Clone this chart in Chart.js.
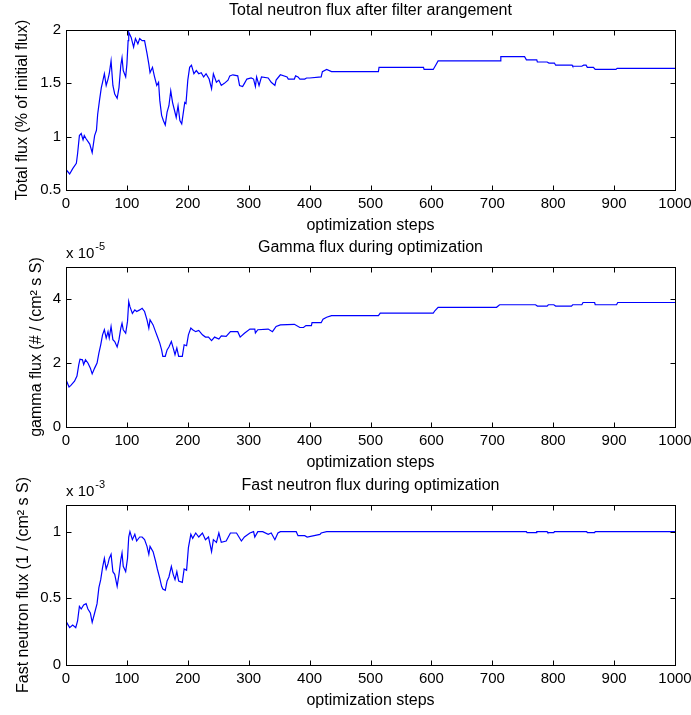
<!DOCTYPE html>
<html>
<head>
<meta charset="utf-8">
<script src="https://cdn.jsdelivr.net/npm/chart.js@4.4.1/dist/chart.umd.min.js"></script>
<style>
    html, body { margin: 0; padding: 0; background: #fff; }
    #wrap { position: relative; width: 691px; height: 715px; }
    .panel { position: absolute; left: 0; }
</style>
</head>
<body>
<div id="wrap">
    <canvas id="fluxChart"  class="panel" width="691" height="237" style="top:0"></canvas>
    <canvas id="gammaChart" class="panel" width="691" height="237" style="top:237px"></canvas>
    <canvas id="fastChart"  class="panel" width="691" height="237" style="top:475px"></canvas>
</div>
<script>
// x axis shared by the three panels
const stepTicks = [0, 100, 200, 300, 400, 500, 600, 700, 800, 900, 1000];

// total neutron flux (% of initial flux)
const fluxTicks = [0.5, 1, 1.5, 2];
const fluxSteps = [
    0, 1, 6, 11, 17, 19, 22, 25, 28, 30,
    33, 39, 43, 47, 50, 52, 55, 58, 60, 63,
    66, 69, 71, 74, 77, 80, 84, 87, 90, 92,
    94, 98, 100, 102, 103, 107, 111, 114, 118, 121,
    125, 129, 133, 136, 138, 142, 145, 149, 152, 154,
    157, 160, 163, 166, 169, 172, 175, 178, 181, 184,
    187, 190, 192, 195, 197, 200, 203, 206, 210, 214,
    218, 222, 226, 230, 235, 239, 242, 247, 251, 255,
    260, 266, 269, 274, 282, 285, 290, 293, 297, 304,
    308, 311, 313, 317, 321, 332, 337, 343, 345, 352,
    363, 365, 375, 377, 381, 384, 392, 395, 400, 419,
    421, 428, 436, 513, 514, 587, 588, 603, 607, 611,
    713, 714, 753, 756, 773, 774, 790, 793, 802, 804,
    831, 832, 847, 850, 854, 856, 866, 869, 903, 905,
    1000
];
const fluxValues = [
    0.68, 0.685, 0.65, 0.70, 0.75, 0.84, 1.01, 1.03, 0.97, 1.01,
    0.98, 0.93, 0.85, 1.01, 1.06, 1.21, 1.34, 1.46, 1.51, 1.59,
    1.48, 1.54, 1.59, 1.71, 1.48, 1.40, 1.36, 1.46, 1.67, 1.74,
    1.62, 1.56, 1.68, 1.90, 1.98, 1.93, 1.84, 1.92, 1.87, 1.92,
    1.90, 1.90, 1.78, 1.68, 1.60, 1.65, 1.57, 1.48, 1.51, 1.34,
    1.20, 1.15, 1.11, 1.23, 1.29, 1.43, 1.32, 1.25, 1.18, 1.29,
    1.15, 1.12, 1.20, 1.32, 1.31, 1.53, 1.65, 1.67, 1.59, 1.62,
    1.59, 1.60, 1.56, 1.59, 1.54, 1.45, 1.59, 1.51, 1.53, 1.48,
    1.50, 1.53, 1.57, 1.58, 1.57, 1.48, 1.47, 1.50, 1.54, 1.55,
    1.54, 1.47, 1.56, 1.48, 1.56, 1.55, 1.51, 1.48, 1.53, 1.58,
    1.56, 1.54, 1.54, 1.57, 1.56, 1.54, 1.54, 1.55, 1.55, 1.56,
    1.61, 1.63, 1.61, 1.61, 1.65, 1.65, 1.63, 1.63, 1.67, 1.71,
    1.71, 1.75, 1.75, 1.72, 1.72, 1.70, 1.70, 1.69, 1.69, 1.67,
    1.67, 1.66, 1.66, 1.67, 1.67, 1.65, 1.65, 1.63, 1.63, 1.64,
    1.64
];

// gamma flux, in units of 1e-5
const gammaTicks = [0, 2, 4];
const gammaSteps = [
    0, 5, 8, 14, 18, 21, 23, 27, 29, 32,
    36, 40, 43, 47, 51, 54, 57, 60, 63, 66,
    69, 71, 74, 77, 80, 84, 87, 90, 92, 94,
    98, 101, 103, 105, 109, 113, 116, 121, 125, 129,
    133, 136, 138, 143, 147, 150, 154, 157, 159, 163,
    166, 169, 173, 176, 179, 182, 185, 191, 194, 198,
    201, 205, 208, 213, 218, 224, 229, 234, 239, 244,
    251, 255, 263, 270, 282, 286, 293, 302, 310, 311,
    315, 332, 339, 345, 352, 375, 384, 390, 394, 403,
    404, 419, 422, 428, 436, 513, 516, 603, 606, 611,
    707, 712, 771, 774, 790, 792, 801, 804, 830, 832,
    847, 849, 868, 869, 904, 906, 1000
];
const gammaValues = [
    1.48, 1.25, 1.30, 1.43, 1.59, 1.95, 2.12, 2.10, 1.95, 2.10,
    2.00, 1.84, 1.66, 1.84, 2.00, 2.31, 2.57, 2.88, 3.04, 2.78,
    2.98, 2.78, 3.14, 2.73, 2.67, 2.50, 2.73, 3.09, 3.24, 3.04,
    2.93, 3.30, 3.92, 3.76, 3.55, 3.66, 3.61, 3.66, 3.71, 3.61,
    3.35, 3.09, 3.35, 3.19, 2.98, 2.83, 2.62, 2.41, 2.21, 2.21,
    2.41, 2.50, 2.67, 2.47, 2.26, 2.47, 2.21, 2.21, 2.57, 2.54,
    2.88, 3.09, 3.04, 2.98, 3.02, 2.88, 2.81, 2.81, 2.70, 2.81,
    2.75, 2.85, 2.83, 2.98, 2.98, 2.81, 2.93, 3.06, 3.06, 2.94,
    3.04, 3.06, 2.98, 3.14, 3.19, 3.21, 3.11, 3.11, 3.17, 3.17,
    3.26, 3.26, 3.37, 3.43, 3.48, 3.48, 3.56, 3.56, 3.64, 3.74,
    3.74, 3.82, 3.82, 3.78, 3.78, 3.82, 3.82, 3.78, 3.78, 3.82,
    3.82, 3.89, 3.89, 3.82, 3.82, 3.89, 3.89
];

// fast neutron flux, in units of 1e-3
const fastTicks = [0, 0.5, 1];
const fastSteps = [
    1, 6, 11, 16, 19, 22, 25, 29, 33, 36,
    40, 43, 47, 51, 54, 57, 60, 63, 66, 69,
    71, 74, 77, 80, 84, 87, 90, 92, 94, 98,
    101, 103, 105, 109, 113, 116, 121, 125, 129, 133,
    136, 138, 143, 147, 150, 154, 157, 159, 163, 166,
    169, 173, 176, 179, 182, 185, 191, 194, 198, 201,
    205, 208, 213, 218, 224, 229, 234, 239, 242, 247,
    251, 255, 263, 270, 280, 288, 293, 302, 308, 310,
    315, 323, 332, 337, 343, 348, 352, 378, 381, 392,
    396, 417, 419, 428, 756, 757, 772, 773, 790, 791,
    801, 802, 855, 856, 868, 869, 1000
];
const fastValues = [
    0.32, 0.28, 0.30, 0.28, 0.33, 0.44, 0.42, 0.45, 0.46, 0.42,
    0.39, 0.32, 0.39, 0.46, 0.58, 0.64, 0.73, 0.80, 0.72, 0.76,
    0.80, 0.83, 0.70, 0.68, 0.59, 0.68, 0.79, 0.84, 0.74, 0.70,
    0.80, 0.96, 1.00, 0.94, 0.98, 0.93, 0.96, 0.96, 0.94, 0.89,
    0.83, 0.89, 0.85, 0.78, 0.72, 0.65, 0.59, 0.57, 0.56, 0.63,
    0.66, 0.74, 0.68, 0.64, 0.70, 0.63, 0.62, 0.72, 0.71, 0.88,
    0.98, 0.95, 0.99, 0.96, 0.99, 0.94, 0.96, 0.85, 0.94, 0.92,
    0.99, 0.92, 0.93, 0.99, 0.99, 0.93, 0.96, 0.99, 1.00, 0.96,
    1.00, 1.00, 0.98, 0.99, 0.94, 0.99, 1.00, 1.00, 0.97, 0.97,
    0.96, 0.98, 0.99, 1.00, 1.00, 0.993, 0.993, 1.00, 1.00, 0.993,
    0.993, 1.00, 1.00, 0.993, 0.993, 1.00, 1.00
];

const FONT = '"Liberation Sans", Arial, sans-serif';
const tickFont  = { family: FONT, size: 15 };
const labelFont = { family: FONT, size: 16 };

// box with inward ticks on all four sides, title above, exponent note top-left
const matlabFrame = {
    id: 'matlabFrame',
    afterDatasetsDraw(chart, args, opts) {
        const { ctx, chartArea: a, scales: { x, y } } = chart;
        const L = Math.round(a.left) + 0.5, R = Math.round(a.right) + 0.5;
        const T = Math.round(a.top) + 0.5,  B = Math.round(a.bottom) + 0.5;
        ctx.save();
        ctx.strokeStyle = '#000';
        ctx.lineWidth = 1;
        ctx.strokeRect(L, T, R - L, B - T);
        ctx.beginPath();
        x.ticks.forEach(t => {
            const px = Math.round(x.getPixelForValue(t.value)) + 0.5;
            ctx.moveTo(px, B); ctx.lineTo(px, B - 5);
            ctx.moveTo(px, T); ctx.lineTo(px, T + 5);
        });
        y.ticks.forEach(t => {
            const py = Math.round(y.getPixelForValue(t.value)) + 0.5;
            ctx.moveTo(L, py); ctx.lineTo(L + 5, py);
            ctx.moveTo(R, py); ctx.lineTo(R - 5, py);
        });
        ctx.stroke();

        ctx.fillStyle = '#000';
        ctx.textBaseline = 'middle';
        ctx.textAlign = 'center';
        ctx.font = `16px ${FONT}`;
        ctx.fillText(opts.title, (a.left + a.right) / 2, a.top - 19);

        if (opts.exponent) {
            ctx.textAlign = 'left';
            ctx.font = `15px ${FONT}`;
            ctx.fillText('x 10', a.left, a.top - 13);
            const w = ctx.measureText('x 10').width;
            ctx.font = `11px ${FONT}`;
            ctx.fillText(opts.exponent, a.left + w + 1, a.top - 20);
        }
        ctx.restore();
    }
};

function makePanel(id, cfg) {
    const ctx = document.getElementById(id);
    return new Chart(ctx, {
        type: 'line',
        data: {
            datasets: [{
                data: cfg.steps.map((s, i) => ({ x: s, y: cfg.values[i] })),
                borderColor: '#0000ff',
                borderWidth: 1.2,
                pointRadius: 0,
                tension: 0,
                fill: false
            }]
        },
        options: {
            responsive: false,
            animation: false,
            events: [],
            layout: { padding: { top: 30, right: 16, bottom: 0, left: 0 } },
            plugins: {
                legend: { display: false },
                tooltip: { enabled: false },
                matlabFrame: { title: cfg.title, exponent: cfg.exponent }
            },
            scales: {
                x: {
                    type: 'linear',
                    min: 0,
                    max: 1000,
                    afterBuildTicks: s => { s.ticks = stepTicks.map(v => ({ value: v })); },
                    afterFit: s => { s.height = 47; s.paddingLeft = 0; s.paddingRight = 0; },
                    grid: { display: false, drawTicks: false },
                    border: { display: false },
                    ticks: { font: tickFont, color: '#000', padding: 5, maxRotation: 0, autoSkip: false, callback: v => String(v) },
                    title: { display: true, text: 'optimization steps', font: labelFont, color: '#000', padding: { top: 0, bottom: 2 } }
                },
                y: {
                    type: 'linear',
                    min: cfg.yMin,
                    max: cfg.yMax,
                    afterBuildTicks: s => { s.ticks = cfg.ticks.map(v => ({ value: v })); },
                    afterFit: s => { s.width = 66; s.paddingTop = 0; s.paddingBottom = 0; },
                    grid: { display: false, drawTicks: false },
                    border: { display: false },
                    ticks: { font: tickFont, color: '#000', padding: 5, callback: v => String(v) },
                    title: { display: true, text: cfg.yLabel, font: labelFont, color: '#000', padding: { top: cfg.yTitlePad, bottom: 0 } }
                }
            }
        },
        plugins: [matlabFrame]
    });
}

makePanel('fluxChart', {
    title: 'Total neutron flux after filter arangement',
    yLabel: 'Total flux (% of initial flux)',
    steps: fluxSteps, values: fluxValues, ticks: fluxTicks,
    yMin: 0.5, yMax: 2, yTitlePad: 13
});
makePanel('gammaChart', {
    title: 'Gamma flux during optimization',
    yLabel: 'gamma flux (# / (cm² s S)',
    exponent: '-5',
    steps: gammaSteps, values: gammaValues, ticks: gammaTicks,
    yMin: 0, yMax: 5, yTitlePad: 27
});
makePanel('fastChart', {
    title: 'Fast neutron flux during optimization',
    yLabel: 'Fast neutron flux (1 / (cm² s S)',
    exponent: '-3',
    steps: fastSteps, values: fastValues, ticks: fastTicks,
    yMin: 0, yMax: 1.2, yTitlePad: 14
});
</script>
</body>
</html>
